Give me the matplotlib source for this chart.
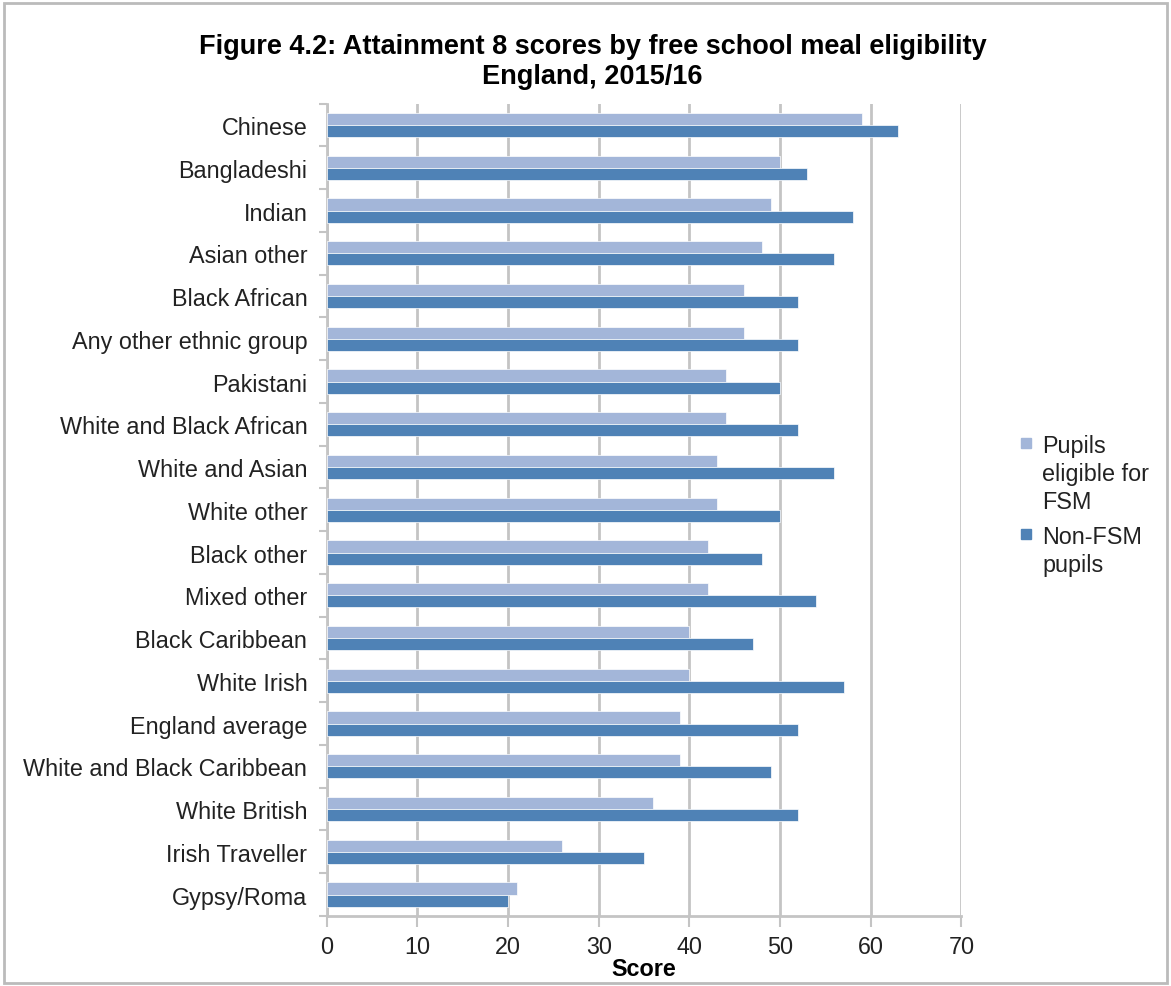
import matplotlib
matplotlib.use("Agg")
import matplotlib.pyplot as plt
import numpy as np
from matplotlib.patches import Rectangle

plt.rcParams['font.family'] = ['Liberation Sans', 'DejaVu Sans']

groups = ["Chinese", "Bangladeshi", "Indian", "Asian other", "Black African",
          "Any other ethnic group", "Pakistani", "White and Black African",
          "White and Asian", "White other", "Black other", "Mixed other",
          "Black Caribbean", "White Irish", "England average",
          "White and Black Caribbean", "White British", "Irish Traveller",
          "Gypsy/Roma"]
fsm = [59, 50, 49, 48, 46, 46, 44, 44, 43, 43, 42, 42, 40, 40, 39, 39, 36, 26, 21]
non_fsm = [63, 53, 58, 56, 52, 52, 50, 52, 56, 50, 48, 54, 47, 57, 52, 49, 52, 35, 20]
series = ['Pupils\neligible for\nFSM', 'Non-FSM\npupils']

light = '#A3B6D9'
dark = '#4F82B6'
grid_c = '#C4C4C4'
fs = 16.8

fig = plt.figure(figsize=(11.71, 9.87), dpi=100)
ax = fig.add_axes([0.279, 0.071, 0.542, 0.823])

y = np.arange(len(groups))
h = 0.285
ax.barh(y - h / 2, fsm, height=h, color=light, edgecolor='white', linewidth=0.5, zorder=3)
ax.barh(y + h / 2, non_fsm, height=h, color=dark, edgecolor='white', linewidth=0.5, zorder=3)

ax.set_ylim(len(groups) - 0.5, -0.5)
ax.set_xlim(0, 70)
ax.set_xticks(range(0, 71, 10))
ax.set_yticks(y)
ax.set_yticklabels(groups)
ax.set_yticks(np.arange(-0.5, len(groups), 1), minor=True)
ax.tick_params(axis='y', which='major', length=0, pad=14, labelsize=fs, labelcolor='#222222')
ax.tick_params(axis='y', which='minor', length=6, width=1.5, color=grid_c, direction='out')
ax.tick_params(axis='x', length=8, width=1.5, color=grid_c, labelsize=fs, pad=6,
               labelcolor='#222222')
ax.xaxis.grid(True, color=grid_c, linewidth=2, zorder=0)
for s in ['top', 'right']:
    ax.spines[s].set_visible(False)
for s in ['left', 'bottom']:
    ax.spines[s].set_color(grid_c)
    ax.spines[s].set_linewidth(2)

ax.set_xlabel('Score', fontsize=fs, fontweight='bold', labelpad=-1)
fig.suptitle('Figure 4.2: Attainment 8 scores by free school meal eligibility\nEngland, 2015/16',
             fontsize=19.5, fontweight='bold', x=0.506, y=0.966, linespacing=1.2)

# legend drawn by hand so multi-line labels sit top-aligned beside their swatch
W, H = 1171, 987
for lab, col, ytop in zip(series, [light, dark], [435, 526]):
    fig.add_artist(Rectangle((1021 / W, 1 - (ytop + 14) / H), 10 / W, 10 / H,
                             transform=fig.transFigure, color=col))
    fig.text(1042 / W, 1 - ytop / H, lab, fontsize=fs, va='top', ha='left',
             color='#222222', linespacing=1.27)

fig.add_artist(Rectangle((0.003, 0.003), 0.994, 0.993, transform=fig.transFigure,
                         fill=False, edgecolor='#BBBBBB', linewidth=2))

fig.savefig('out.png', dpi=100)
